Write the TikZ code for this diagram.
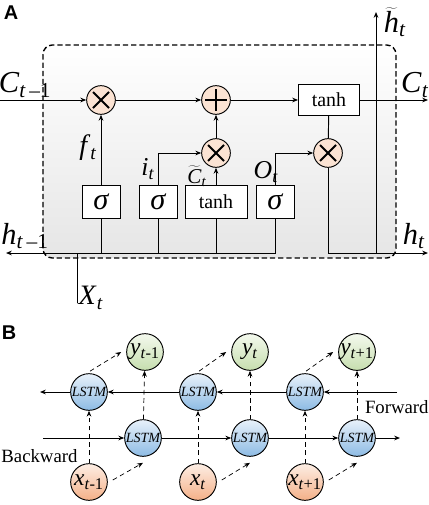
\documentclass[tikz,border=0pt]{standalone}
\usepackage{fontspec}
\setmainfont{Liberation Serif}
\newfontfamily\headfont{Liberation Sans}
\usetikzlibrary{arrows.meta}
\definecolor{opfill}{HTML}{FBE3D3}
\definecolor{lstmtop}{HTML}{E8F1FA}
\definecolor{lstmbot}{HTML}{8DBBE4}
\definecolor{xtop}{HTML}{FDEEE4}
\definecolor{xbot}{HTML}{F4B088}
\definecolor{ytop}{HTML}{F4F9EE}
\definecolor{ybot}{HTML}{C6DEAE}
\newcommand{\lab}[2]{\textit{#1}\textsubscript{#2}}

\begin{document}
\begin{tikzpicture}[x=0.03cm, y=-0.03cm, line width=0.8pt, >={Stealth[length=5pt,width=4pt]},
    op/.style={circle, draw, fill=opfill, minimum size=0.86cm, inner sep=0pt},
    gatebox/.style={draw, fill=white, minimum width=1.14cm, minimum height=0.99cm, inner sep=0pt, font=\fontsize{26}{28}\selectfont\itshape},
    cell/.style={circle, draw, minimum size=1.1cm, inner sep=0pt, font=\fontsize{12}{13}\selectfont\itshape},
    lbl/.style={font=\fontsize{22}{24}\selectfont, inner sep=0pt},
    big/.style={font=\fontsize{26}{28}\selectfont, inner sep=0pt}]
\useasboundingbox (0,0) rectangle (429,505);

% A: LSTM cell
\node[font=\headfont\bfseries\fontsize{17}{18}\selectfont] (capA) at (11,13) {A};
\shade[top color=white, bottom color=black!10, rounded corners=8] (43,45) rectangle (396,258);
\draw[dash pattern=on 4.5pt off 2.5pt, line width=1.2pt, rounded corners=8] (43,45) rectangle (396,258);

\node[op] (m1) at (101,100) {};
\node[op] (pl) at (216,100) {};
\node[op] (m2) at (216,153) {};
\node[op] (m3) at (328,153) {};
\node[draw, fill=white, minimum width=1.83cm, minimum height=0.93cm, font=\fontsize{17}{18}\selectfont] (th2) at (329,100) {tanh};

\node[gatebox] (g1) at (101,202) {σ};
\node[gatebox] (g2) at (158,202) {σ};
\node[gatebox, minimum width=1.86cm, font=\fontsize{17}{18}\selectfont] (g3) at (216,202) {tanh};
\node[gatebox] (g4) at (275,202) {σ};

\foreach \o in {m1,m2,m3}
  \draw[line width=1.6pt] ([shift={(-8,-8)}]\o.center) -- ([shift={(8,8)}]\o.center)
    ([shift={(-8,8)}]\o.center) -- ([shift={(8,-8)}]\o.center);
\draw[line width=1.6pt] ([shift={(0,-11)}]pl.center) -- ([shift={(0,11)}]pl.center)
  ([shift={(-11,0)}]pl.center) -- ([shift={(11,0)}]pl.center);

\coordinate (cin) at (0,100);
\coordinate (cout) at (428,100);
\coordinate (hl) at (6,253);
\coordinate (hr) at (428,253);
\coordinate (xt) at (77,303);
\coordinate (ht) at (376,12);

\draw[->] (cin) -- (m1);
\draw[->] (m1) -- (pl);
\draw[->] (pl) -- (th2);
\draw[->] (th2) -- (cout);
\draw (th2) -- (m3);
\draw[->] (g1) -- (m1);
\draw[->] (g2.north) |- (m2.west);
\draw[->] (g3) -- (m2);
\draw[->] (m2) -- (pl);
\draw[->] (g4.north) |- (m3.west);
\draw[->] (g4.south) |- (hl);
\draw (g1.south) -- (g1.south |- hl);
\draw (g2.south) -- (g2.south |- hl);
\draw (g3.south) -- (g3.south |- hl);
\draw (xt) -- (xt |- hl);
\draw[->] (m3.south) |- (hr);
\draw[->] (ht |- hr) -- (ht);

\node[big] (lc1) at (25,85) {\lab{C}{\textit{t}\,–1}};
\node[big] (lc2) at (415,85) {\lab{C}{\textit{t}}};
\node[big] (lh1) at (25,236) {\lab{h}{\textit{t}\,–1}};
\node[big] (lh2) at (414,236) {\lab{h}{\textit{t}}};
\node[big] (lht) at (395,22) {$\widetilde{\textit{h}}$\textsubscript{\textit{t}}};
\node[lbl, font=\fontsize{24}{26}\selectfont] (lf) at (88,148) {\lab{f}{\textit{t}}};
\node[lbl] (li) at (148,169) {\lab{i}{\textit{t}}};
\node[lbl, font=\fontsize{18}{20}\selectfont] (lct) at (197,176) {$\widetilde{\textit{C}}$\textsubscript{\textit{t}}};
\node[lbl] (lo) at (266,172) {\lab{O}{\textit{t}}};
\node[lbl, font=\fontsize{24}{26}\selectfont] (lx) at (91,298) {\lab{X}{\textit{t}}};

% B: bidirectional LSTM
\node[font=\headfont\bfseries\fontsize{17}{18}\selectfont] (capB) at (9,333) {B};

\node[cell, top color=ytop, bottom color=ybot, font=\fontsize{20}{21}\selectfont] (y1) at (145,352) {\lab{y}{\textit{t}-1}};
\node[cell, top color=ytop, bottom color=ybot, font=\fontsize{20}{21}\selectfont] (y2) at (250,352) {\lab{y}{\textit{t}}};
\node[cell, top color=ytop, bottom color=ybot, font=\fontsize{20}{21}\selectfont] (y3) at (357,352) {\lab{y}{\textit{t}+1}};
\node[cell, top color=lstmtop, bottom color=lstmbot] (f1) at (89,392) {LSTM};
\node[cell, top color=lstmtop, bottom color=lstmbot] (f2) at (198,392) {LSTM};
\node[cell, top color=lstmtop, bottom color=lstmbot] (f3) at (305,392) {LSTM};
\node[cell, top color=lstmtop, bottom color=lstmbot] (b1) at (143,438) {LSTM};
\node[cell, top color=lstmtop, bottom color=lstmbot] (b2) at (250,438) {LSTM};
\node[cell, top color=lstmtop, bottom color=lstmbot] (b3) at (357,438) {LSTM};
\node[cell, top color=xtop, bottom color=xbot, font=\fontsize{20}{21}\selectfont] (x1) at (89,482) {\lab{x}{\textit{t}-1}};
\node[cell, top color=xtop, bottom color=xbot, font=\fontsize{20}{21}\selectfont] (x2) at (198,482) {\lab{x}{\textit{t}}};
\node[cell, top color=xtop, bottom color=xbot, font=\fontsize{20}{21}\selectfont] (x3) at (305,482) {\lab{x}{\textit{t}+1}};

\coordinate (fr) at (397,392);
\coordinate (fl) at (40,392);
\coordinate (bl) at (43,438);
\coordinate (br) at (400,438);

\draw[->] (fr) -- (f3);
\draw[->] (f3) -- (f2);
\draw[->] (f2) -- (f1);
\draw[->] (f1) -- (fl);
\draw[->] (bl) -- (b1);
\draw[->] (b1) -- (b2);
\draw[->] (b2) -- (b3);
\draw[->] (b3) -- (br);

\foreach \i in {1,2,3} {
  \draw[->, dash pattern=on 4pt off 3pt, line width=0.6pt] (x\i) -- (f\i);
  \draw[->, dash pattern=on 4pt off 3pt, line width=0.6pt] ([shift={(5,-2)}]x\i.east) -- ([shift={(0,6)}]b\i.south);
  \draw[->, dash pattern=on 4pt off 3pt, line width=0.6pt] ([shift={(1,-2)}]f\i.north) -- ([shift={(-5,0)}]y\i.west);
  \draw[->, dash pattern=on 4pt off 3pt, line width=0.6pt] (b\i) -- (y\i);
}

\node[font=\fontsize{16}{17}\selectfont, anchor=east, inner sep=0pt] (lfw) at (429,407) {Forward};
\node[font=\fontsize{16}{17}\selectfont, anchor=west, inner sep=0pt] (lbw) at (1,456) {Backward};
\end{tikzpicture}
\end{document}
